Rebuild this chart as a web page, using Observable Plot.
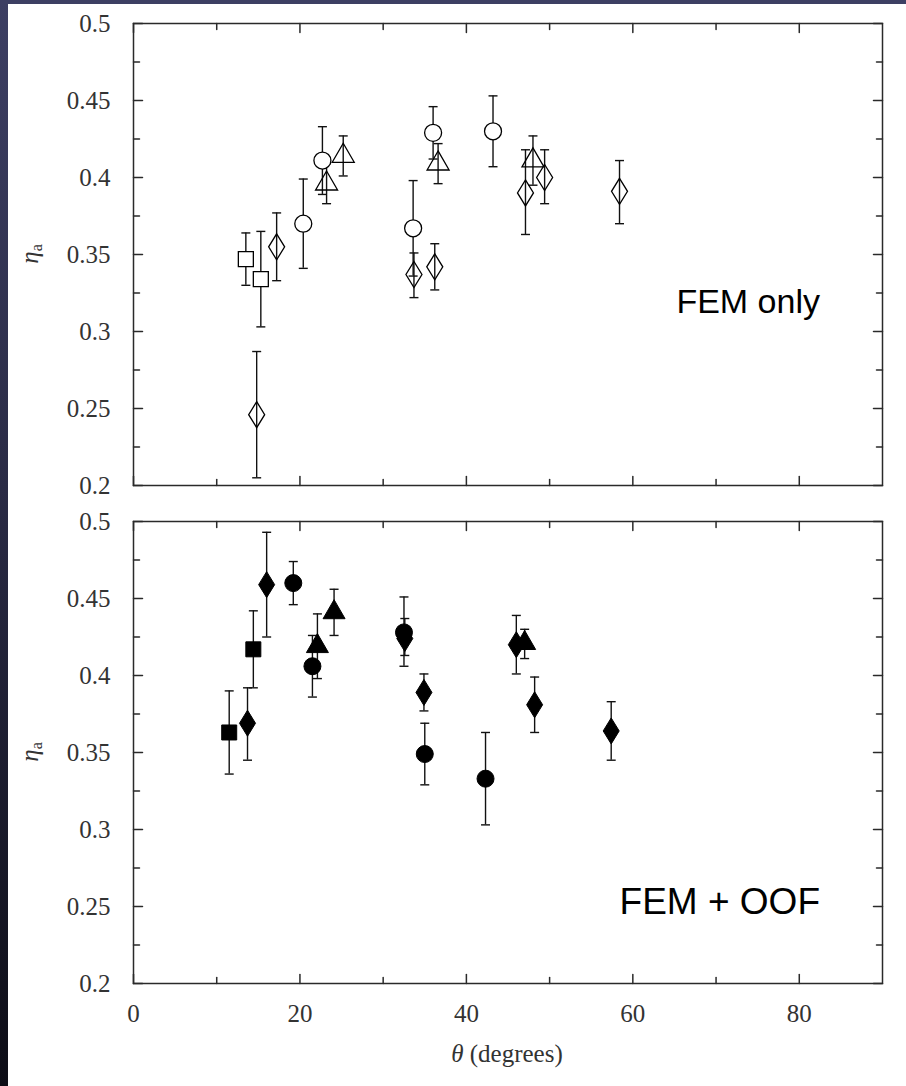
<!DOCTYPE html>
<html>
<head>
<meta charset="utf-8">
<script src="https://cdn.jsdelivr.net/npm/d3@7"></script>
<script src="https://cdn.jsdelivr.net/npm/@observablehq/plot@0.6"></script>
<style>
html, body { margin: 0; padding: 0; background: #fff; }
#page { position: relative; width: 906px; height: 1086px; overflow: hidden; background: #fff; }
#strip { position: absolute; left: 0; top: 0; width: 8px; height: 1086px;
  background: linear-gradient(#3d3f63, #2a2b45 45%, #0d0d16); }
#band { position: absolute; left: 0; top: 0; width: 906px; height: 4px; background: #3d3f63; }
#top, #bot { position: absolute; left: 0; }
#top { top: 0; }
#bot { top: 500px; }
</style>
</head>
<body>
<div id="page">
  <div id="top"></div>
  <div id="bot"></div>
  <div id="strip"></div>
  <div id="band"></div>
</div>
<script>
// ---------- data ----------
const xMajor = [0, 20, 40, 60, 80];
const xMinor = [10, 30, 50, 70];
const xTickLabels = ["0", "20", "40", "60", "80"];
const yMajor = [0.2, 0.25, 0.3, 0.35, 0.4, 0.45, 0.5];
const yMinor = [0.225, 0.275, 0.325, 0.375, 0.425, 0.475];
const yTickLabels = ["0.2", "0.25", "0.3", "0.35", "0.4", "0.45", "0.5"];

// Panel 1: FEM only (open symbols)
const femTheta = [13.5, 15.3, 20.4, 22.7, 33.6, 36.0, 43.2, 23.2, 25.2, 36.6, 48.0, 14.8, 17.2, 33.7, 36.2, 47.1, 49.4, 58.4];
const femEta   = [0.347, 0.334, 0.370, 0.411, 0.367, 0.429, 0.430, 0.396, 0.414, 0.409, 0.411, 0.246, 0.355, 0.337, 0.342, 0.390, 0.400, 0.391];
const femLo    = [0.330, 0.303, 0.341, 0.389, 0.336, 0.412, 0.407, 0.383, 0.401, 0.396, 0.395, 0.205, 0.333, 0.322, 0.327, 0.363, 0.383, 0.370];
const femHi    = [0.364, 0.365, 0.399, 0.433, 0.398, 0.446, 0.453, 0.409, 0.427, 0.422, 0.427, 0.287, 0.377, 0.351, 0.357, 0.418, 0.418, 0.411];
const femShape = ["square", "square", "circle", "circle", "circle", "circle", "circle",
                  "triangle", "triangle", "triangle", "triangle",
                  "diamond", "diamond", "diamond", "diamond", "diamond", "diamond", "diamond"];

// Panel 2: FEM + OOF (filled symbols)
const oofTheta = [11.5, 14.4, 13.7, 16.0, 32.6, 34.9, 46.0, 48.2, 57.4, 19.2, 21.5, 32.5, 35.0, 42.3, 22.1, 24.1, 47.0];
const oofEta   = [0.363, 0.417, 0.369, 0.459, 0.424, 0.389, 0.420, 0.381, 0.364, 0.460, 0.406, 0.428, 0.349, 0.333, 0.419, 0.441, 0.421];
const oofLo    = [0.336, 0.392, 0.345, 0.425, 0.413, 0.377, 0.401, 0.363, 0.345, 0.446, 0.386, 0.406, 0.329, 0.303, 0.398, 0.426, 0.411];
const oofHi    = [0.390, 0.442, 0.392, 0.493, 0.437, 0.401, 0.439, 0.399, 0.383, 0.474, 0.426, 0.451, 0.369, 0.363, 0.440, 0.456, 0.430];
const oofShape = ["square", "square", "diamond", "diamond", "diamond", "diamond", "diamond", "diamond", "diamond",
                  "circle", "circle", "circle", "circle", "circle", "triangle", "triangle", "triangle"];

// ---------- drawing ----------
const SERIF = "'Liberation Serif', 'DejaVu Serif', serif";
const rowsOf = (theta, eta, lo, hi, shape) =>
  theta.map((t, i) => ({theta: t, eta: eta[i], lo: lo[i], hi: hi[i], shape: shape[i]}));

const symbols = {
  circle: {draw(c) { c.moveTo(8.5, 0); c.arc(0, 0, 8.5, 0, 2 * Math.PI); c.closePath(); }},
  square: {draw(c) { c.moveTo(-7.5, -7.5); c.lineTo(7.5, -7.5); c.lineTo(7.5, 7.5); c.lineTo(-7.5, 7.5); c.closePath(); }},
  diamond: {draw(c) { c.moveTo(0, -13); c.lineTo(8, 0); c.lineTo(0, 13); c.lineTo(-8, 0); c.closePath(); }},
  triangle: {draw(c) { c.moveTo(0, -12.7); c.lineTo(11, 6.35); c.lineTo(-11, 6.35); c.closePath(); }}
};
const capSymbol = {draw(c) { c.moveTo(-4.5, 0); c.lineTo(4.5, 0); }};
const tickShape = {draw(c, l) { c.moveTo(0, 0); c.lineTo(0, -l); }};

function tickMarks() {
  const s = {stroke: "#2a2a2a", strokeWidth: 1.5, anchor: "start", shape: tickShape};
  return [
    Plot.vector(yMajor, {...s, y: d => d, frameAnchor: "left", rotate: 90, length: 9}),
    Plot.vector(yMinor, {...s, y: d => d, frameAnchor: "left", rotate: 90, length: 6}),
    Plot.vector(yMajor, {...s, y: d => d, frameAnchor: "right", rotate: -90, length: 9}),
    Plot.vector(yMinor, {...s, y: d => d, frameAnchor: "right", rotate: -90, length: 6}),
    Plot.vector(xMajor, {...s, x: d => d, frameAnchor: "bottom", rotate: 0, length: 9}),
    Plot.vector(xMinor, {...s, x: d => d, frameAnchor: "bottom", rotate: 0, length: 6}),
    Plot.vector(xMajor, {...s, x: d => d, frameAnchor: "top", rotate: 180, length: 9}),
    Plot.vector(xMinor, {...s, x: d => d, frameAnchor: "top", rotate: 180, length: 6})
  ];
}

function panel(rows, filled, showX, height, marginTop, marginBottom) {
  const shapes = ["triangle", "diamond", "square", "circle"];
  const fillFor = s => filled ? "black" : ((s === "circle" || s === "square") ? "white" : "none");
  const marks = [
    Plot.ruleX(rows, {x: "theta", y1: "lo", y2: "hi", stroke: "#111", strokeWidth: 1.4}),
    Plot.dot(rows, {x: "theta", y: "hi", symbol: capSymbol, fill: "none", stroke: "#111", strokeWidth: 1.4}),
    Plot.dot(rows, {x: "theta", y: "lo", symbol: capSymbol, fill: "none", stroke: "#111", strokeWidth: 1.4}),
    ...shapes.map(s => Plot.dot(rows.filter(r => r.shape === s), {
      x: "theta", y: "eta", symbol: symbols[s], fill: fillFor(s), stroke: "black", strokeWidth: filled ? 1 : 1.3
    })),
    Plot.frame({stroke: "#2a2a2a", strokeWidth: 1.5}),
    ...tickMarks(),
    Plot.axisY(yMajor, {anchor: "left", tickSize: 0, tickPadding: 23, label: null, color: "#333",
      fontFamily: SERIF, fontSize: 25,
      tickFormat: d => yTickLabels[yMajor.indexOf(d)]})
  ];
  if (showX) {
    marks.push(Plot.axisX(xMajor, {anchor: "bottom", tickSize: 0, tickPadding: 21, label: null, color: "#333",
      fontFamily: SERIF, fontSize: 25,
      tickFormat: d => xTickLabels[xMajor.indexOf(d)]}));
  }
  const svg = Plot.plot({
    width: 906, height,
    marginLeft: 133, marginRight: 24, marginTop, marginBottom,
    x: {domain: [0, 90], axis: showX ? undefined : null},
    y: {domain: [0.2, 0.5]},
    style: {fontFamily: SERIF, fontSize: "25px", background: "transparent", overflow: "visible"},
    marks
  });
  d3.select(svg).selectAll("text").attr("font-family", SERIF).style("font-family", SERIF).style("font-variant", "normal");
  return svg;
}

function addYLabel(svg, cy) {
  const t = d3.select(svg).append("text")
    .attr("transform", `translate(38,${cy}) rotate(-90)`)
    .attr("text-anchor", "middle")
    .attr("fill", "#333")
    .style("font-family", SERIF)
    .attr("font-size", 25);
  t.append("tspan").attr("font-style", "italic").text("η");
  t.append("tspan").attr("font-size", 16).attr("dy", 4).text("a");
}

function addNote(svg, text, x, y, size) {
  d3.select(svg).append("text")
    .attr("x", x).attr("y", y)
    .attr("text-anchor", "end")
    .attr("fill", "black")
    .style("font-family", "'Liberation Sans', Arial, sans-serif")
    .attr("font-size", size)
    .text(text);
}

const topSvg = panel(rowsOf(femTheta, femEta, femLo, femHi, femShape), false, false, 500, 23, 15);
addYLabel(topSvg, 254);
addNote(topSvg, "FEM only", 820, 313, 34);
document.getElementById("top").appendChild(topSvg);

const botSvg = panel(rowsOf(oofTheta, oofEta, oofLo, oofHi, oofShape), true, true, 586, 21, 103);
addYLabel(botSvg, 252);
addNote(botSvg, "FEM + OOF", 820, 414, 37);
{
  const t = d3.select(botSvg).append("text")
    .attr("x", 507).attr("y", 562)
    .attr("text-anchor", "middle")
    .attr("fill", "#333")
    .style("font-family", SERIF)
    .attr("font-size", 25);
  t.append("tspan").attr("font-style", "italic").text("θ");
  t.append("tspan").text(" (degrees)");
}
document.getElementById("bot").appendChild(botSvg);
</script>
</body>
</html>
